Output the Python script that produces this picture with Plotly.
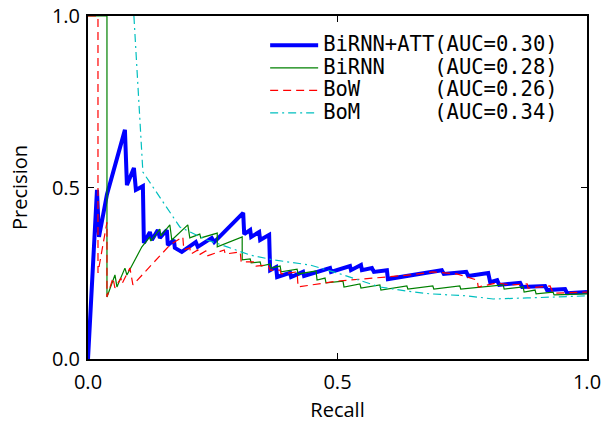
import plotly.graph_objects as go

# ---- data (recall, precision) ----
att_recall = [0.0, 0.018, 0.022, 0.038, 0.074, 0.078, 0.092, 0.096, 0.110, 0.112, 0.124, 0.128,
              0.140, 0.144, 0.158, 0.160, 0.172, 0.174, 0.188, 0.216, 0.220, 0.248, 0.253,
              0.311, 0.313, 0.325, 0.327, 0.343, 0.345, 0.363, 0.365, 0.377, 0.379, 0.405,
              0.407, 0.431, 0.433, 0.485, 0.487, 0.525, 0.527, 0.547, 0.549, 0.569, 0.573,
              0.599, 0.601, 0.709, 0.713, 0.758, 0.762, 0.802, 0.806, 0.820, 0.824, 0.866,
              0.870, 0.916, 0.920, 0.956, 0.960, 1.0]
att_precision = [0.0, 0.493, 0.356, 0.480, 0.668, 0.507, 0.557, 0.493, 0.504, 0.338, 0.370, 0.347,
                 0.376, 0.353, 0.376, 0.332, 0.347, 0.324, 0.312, 0.341, 0.327, 0.353, 0.341,
                 0.426, 0.364, 0.376, 0.356, 0.370, 0.347, 0.362, 0.259, 0.268, 0.239, 0.251,
                 0.239, 0.254, 0.242, 0.265, 0.254, 0.271, 0.259, 0.274, 0.259, 0.265, 0.254,
                 0.259, 0.233, 0.259, 0.248, 0.254, 0.242, 0.251, 0.224, 0.230, 0.216, 0.222,
                 0.210, 0.213, 0.201, 0.204, 0.192, 0.195]

rnn_recall = [0.0, 0.038, 0.038, 0.054, 0.058, 0.074, 0.078, 0.108, 0.124, 0.126, 0.144, 0.146,
              0.164, 0.168, 0.200, 0.204, 0.224, 0.226, 0.259, 0.259, 0.309, 0.309, 0.325,
              0.327, 0.345, 0.347, 0.365, 0.367, 0.385, 0.387, 0.419, 0.421, 0.457, 0.459,
              0.475, 0.477, 0.511, 0.513, 0.545, 0.547, 0.585, 0.587, 0.639, 0.641, 0.691,
              0.693, 0.745, 0.747, 0.832, 0.834, 0.872, 0.874, 0.896, 0.898, 0.932, 0.934, 1.0]
rnn_precision = [1.0, 1.0, 0.181, 0.245, 0.210, 0.265, 0.245, 0.327, 0.356, 0.344, 0.379, 0.359,
                 0.391, 0.347, 0.391, 0.353, 0.364, 0.353, 0.367, 0.327, 0.356, 0.289, 0.292,
                 0.280, 0.283, 0.271, 0.277, 0.265, 0.271, 0.254, 0.262, 0.248, 0.257, 0.230,
                 0.236, 0.222, 0.227, 0.210, 0.219, 0.207, 0.216, 0.201, 0.213, 0.204, 0.213,
                 0.204, 0.213, 0.204, 0.216, 0.204, 0.210, 0.195, 0.201, 0.190, 0.195, 0.187, 0.190]

bow_recall = [0.0, 0.020, 0.020, 0.038, 0.038, 0.050, 0.054, 0.066, 0.068, 0.084, 0.090, 0.164,
              0.190, 0.192, 0.204, 0.206, 0.220, 0.222, 0.236, 0.238, 0.273, 0.275, 0.305,
              0.307, 0.335, 0.337, 0.361, 0.365, 0.385, 0.387, 0.419, 0.421, 0.499, 0.565,
              0.645, 0.691, 0.739, 0.780, 0.782, 0.820, 0.846, 0.880, 0.882, 0.926, 0.932, 1.0]
bow_precision = [1.0, 1.0, 0.251, 0.399, 0.181, 0.236, 0.207, 0.236, 0.219, 0.265, 0.216, 0.332,
                 0.356, 0.318, 0.324, 0.306, 0.318, 0.303, 0.315, 0.300, 0.318, 0.306, 0.312,
                 0.283, 0.283, 0.271, 0.274, 0.259, 0.259, 0.248, 0.254, 0.210, 0.227, 0.236,
                 0.245, 0.254, 0.248, 0.230, 0.210, 0.222, 0.216, 0.219, 0.207, 0.213, 0.192, 0.195]

bom_recall = [0.092, 0.110, 0.184, 0.238, 0.279, 0.325, 0.371, 0.445, 0.499, 0.545, 0.585,
              0.639, 0.685, 0.760, 0.812, 0.880, 0.946, 1.0]
bom_precision = [1.0, 0.545, 0.385, 0.347, 0.327, 0.303, 0.289, 0.274, 0.251, 0.230, 0.210,
                 0.198, 0.190, 0.184, 0.175, 0.178, 0.181, 0.184]

NB = "\u00a0"
series_names = ["BiRNN+ATT(AUC=0.30)",
                "BiRNN" + NB * 4 + "(AUC=0.28)",
                "BoW" + NB * 6 + "(AUC=0.26)",
                "BoM" + NB * 6 + "(AUC=0.34)"]

tick_vals = [0.0, 0.5, 1.0]
tick_text = ["0.0", "0.5", "1.0"]


def big(s):
    return '<span style="font-size:20.5px">' + s + "</span>"


fig = go.Figure()
fig.add_trace(go.Scatter(x=att_recall, y=att_precision, mode="lines", name=big(series_names[0]),
                         line=dict(color="#0000ff", width=4)))
fig.add_trace(go.Scatter(x=rnn_recall, y=rnn_precision, mode="lines", name=big(series_names[1]),
                         line=dict(color="#008000", width=1.2)))
fig.add_trace(go.Scatter(x=bow_recall, y=bow_precision, mode="lines", name=big(series_names[2]),
                         line=dict(color="#ff0000", width=1.2, dash="8px,5px")))
fig.add_trace(go.Scatter(x=bom_recall, y=bom_precision, mode="lines", name=big(series_names[3]),
                         line=dict(color="#00bfbf", width=1.2, dash="8px,4px,2px,4px")))

axis_common = dict(range=[0, 1], tickvals=tick_vals, ticktext=tick_text, showgrid=False,
                   zeroline=False, showline=True, linecolor="black", linewidth=2, mirror="ticks",
                   ticks="inside", ticklen=6, tickwidth=1, tickcolor="black", automargin=False,
                   tickfont=dict(family="Open Sans", size=20, color="black"))

fig.update_layout(
    width=613, height=423,
    margin=dict(l=88, r=26, t=16, b=64),
    paper_bgcolor="white", plot_bgcolor="white",
    xaxis=dict(axis_common, ticklabelstandoff=4,
               title=dict(text="Recall", font=dict(family="Open Sans", size=20, color="black"), standoff=12)),
    yaxis=dict(axis_common, ticklabelstandoff=2,
               title=dict(text="Precision", font=dict(family="Open Sans", size=20, color="black"), standoff=19)),
    legend=dict(x=0.355, y=0.962, xanchor="left", yanchor="top",
                font=dict(family="DejaVu Sans Mono", size=15, color="black"),
                bgcolor="rgba(255,255,255,0)", borderwidth=0, tracegroupgap=0,
                itemwidth=48),
    showlegend=True,
)

fig.write_html("out.html", config={"displayModeBar": False},
               post_script="document.body.style.margin='0';")
